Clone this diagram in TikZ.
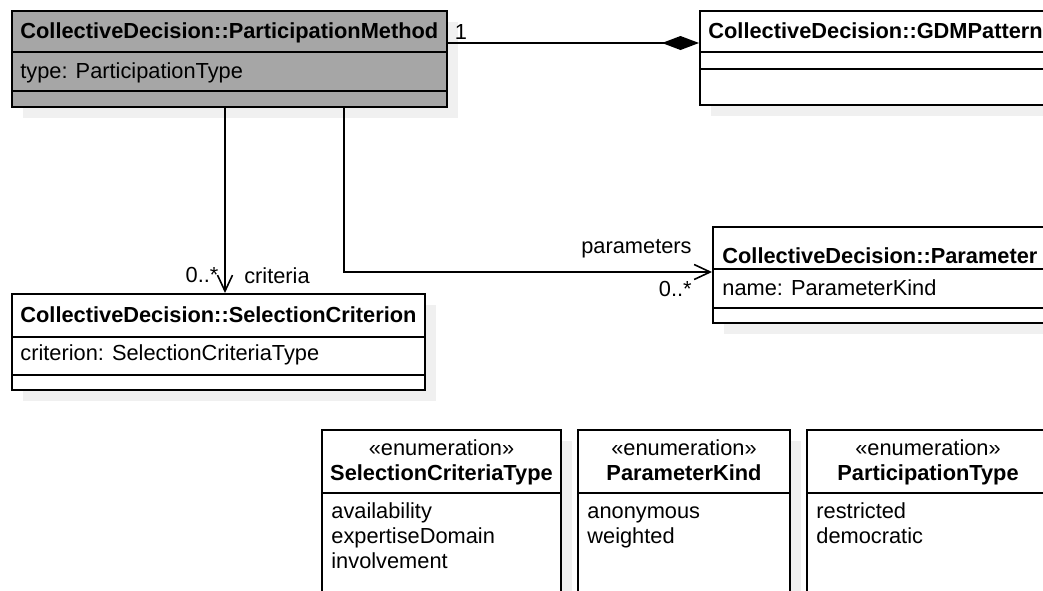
\documentclass[tikz,border=0pt]{standalone}
\usepackage{fontspec}
\setmainfont{Liberation Sans}
\usetikzlibrary{arrows.meta,fit,shadows}

\begin{document}
\begin{tikzpicture}[x=0.5pt,y=-0.5pt,
	every node/.style={font=\fontsize{10.9}{12.5}\selectfont, inner sep=0pt},
	classbox/.style={draw, line width=1pt, inner sep=0pt,
		drop shadow={shadow xshift=5.5pt, shadow yshift=-5.5pt, fill=black!6, opacity=1}},
	classname/.style={anchor=base west, font=\fontsize{10.9}{12.5}\selectfont\bfseries},
	attrtext/.style={anchor=base west},
	stereo/.style={anchor=base},
	enumname/.style={anchor=base, font=\fontsize{10.9}{12.5}\selectfont\bfseries},
	assoc/.style={line width=0.8pt, -{Straight Barb[length=8pt, width=7.5pt]}},
	comp/.style={line width=0.8pt, -{Diamond[length=18.5pt, width=7pt]}}
	]
	
	\useasboundingbox (0,0) rectangle (1043,590);
	\clip (0,0) rectangle (1043,590);
	
	% classes
	\node[classbox, fill=black!35, fit={(12,11) (447,107)}] (pm) {};
	\draw[line width=1pt] (12,52) -- (447,52) (12,91) -- (447,91);
	\node[classname] (pmname) at (20,38) {CollectiveDecision::ParticipationMethod};
	\node[attrtext] (pmtype) at (20,78) {type: ParticipationType};
	
	\node[classbox, fill=white, fit={(700,11) (1060,105)}] (gdm) {};
	\draw[line width=1pt] (700,52) -- (1060,52) (700,69) -- (1060,69);
	\node[classname] (gdmname) at (708,38) {CollectiveDecision::GDMPattern};
	
	\node[classbox, fill=white, fit={(12,294) (425,390)}] (sc) {};
	\draw[line width=1pt] (12,337) -- (425,337) (12,375) -- (425,375);
	\node[classname] (scname) at (20,322) {CollectiveDecision::SelectionCriterion};
	\node[attrtext] (sccrit) at (20,360) {criterion: SelectionCriteriaType};
	
	\node[classbox, fill=white, fit={(713,227) (1060,323)}] (par) {};
	\draw[line width=1pt] (713,269) -- (1060,269) (713,308) -- (1060,308);
	\node[classname] (parname) at (722,263) {CollectiveDecision::Parameter};
	\node[attrtext] (parkind) at (722,295) {name: ParameterKind};
	
	% enumerations
	\node[classbox, fill=white, fit={(322,430) (561,620)}] (sctype) {};
	\draw[line width=1pt] (322,493) -- (561,493);
	\node[stereo] at (441.5,455) {«enumeration»};
	\node[enumname] at (441.5,480) {SelectionCriteriaType};
	\foreach \t [count=\i] in {availability,expertiseDomain,involvement}
		\node[attrtext] at (331,493+25*\i) {\t};
	
	\node[classbox, fill=white, fit={(578,430) (790,620)}] (pkind) {};
	\draw[line width=1pt] (578,493) -- (790,493);
	\node[stereo] at (684,455) {«enumeration»};
	\node[enumname] at (684,480) {ParameterKind};
	\foreach \t [count=\i] in {anonymous,weighted}
		\node[attrtext] at (587,493+25*\i) {\t};
	
	\node[classbox, fill=white, fit={(807,430) (1049,620)}] (ptype) {};
	\draw[line width=1pt] (807,493) -- (1049,493);
	\node[stereo] at (928,455) {«enumeration»};
	\node[enumname] at (928,480) {ParticipationType};
	\foreach \t [count=\i] in {restricted,democratic}
		\node[attrtext] at (816,493+25*\i) {\t};
	
	% associations
	\draw[comp] ([yshift=-16.5pt]pm.north east) -- ([yshift=-16.5pt]gdm.north west);
	\node[anchor=base] (one) at (461,39) {1};
	
	\draw[assoc] ([xshift=107pt]pm.south west) -- ([xshift=107pt]sc.north west);
	\node[anchor=base] (critmult) at (202,282) {0..*};
	\node[anchor=base] (critrole) at (277,283) {criteria};
	
	\draw[assoc] ([xshift=166.5pt]pm.south west) |- ([yshift=-23pt]par.north west);
	\node[anchor=base east] (parrole) at (692,253) {parameters};
	\node[anchor=base east] (parmult) at (692,296) {0..*};
	
\end{tikzpicture}
\end{document}
